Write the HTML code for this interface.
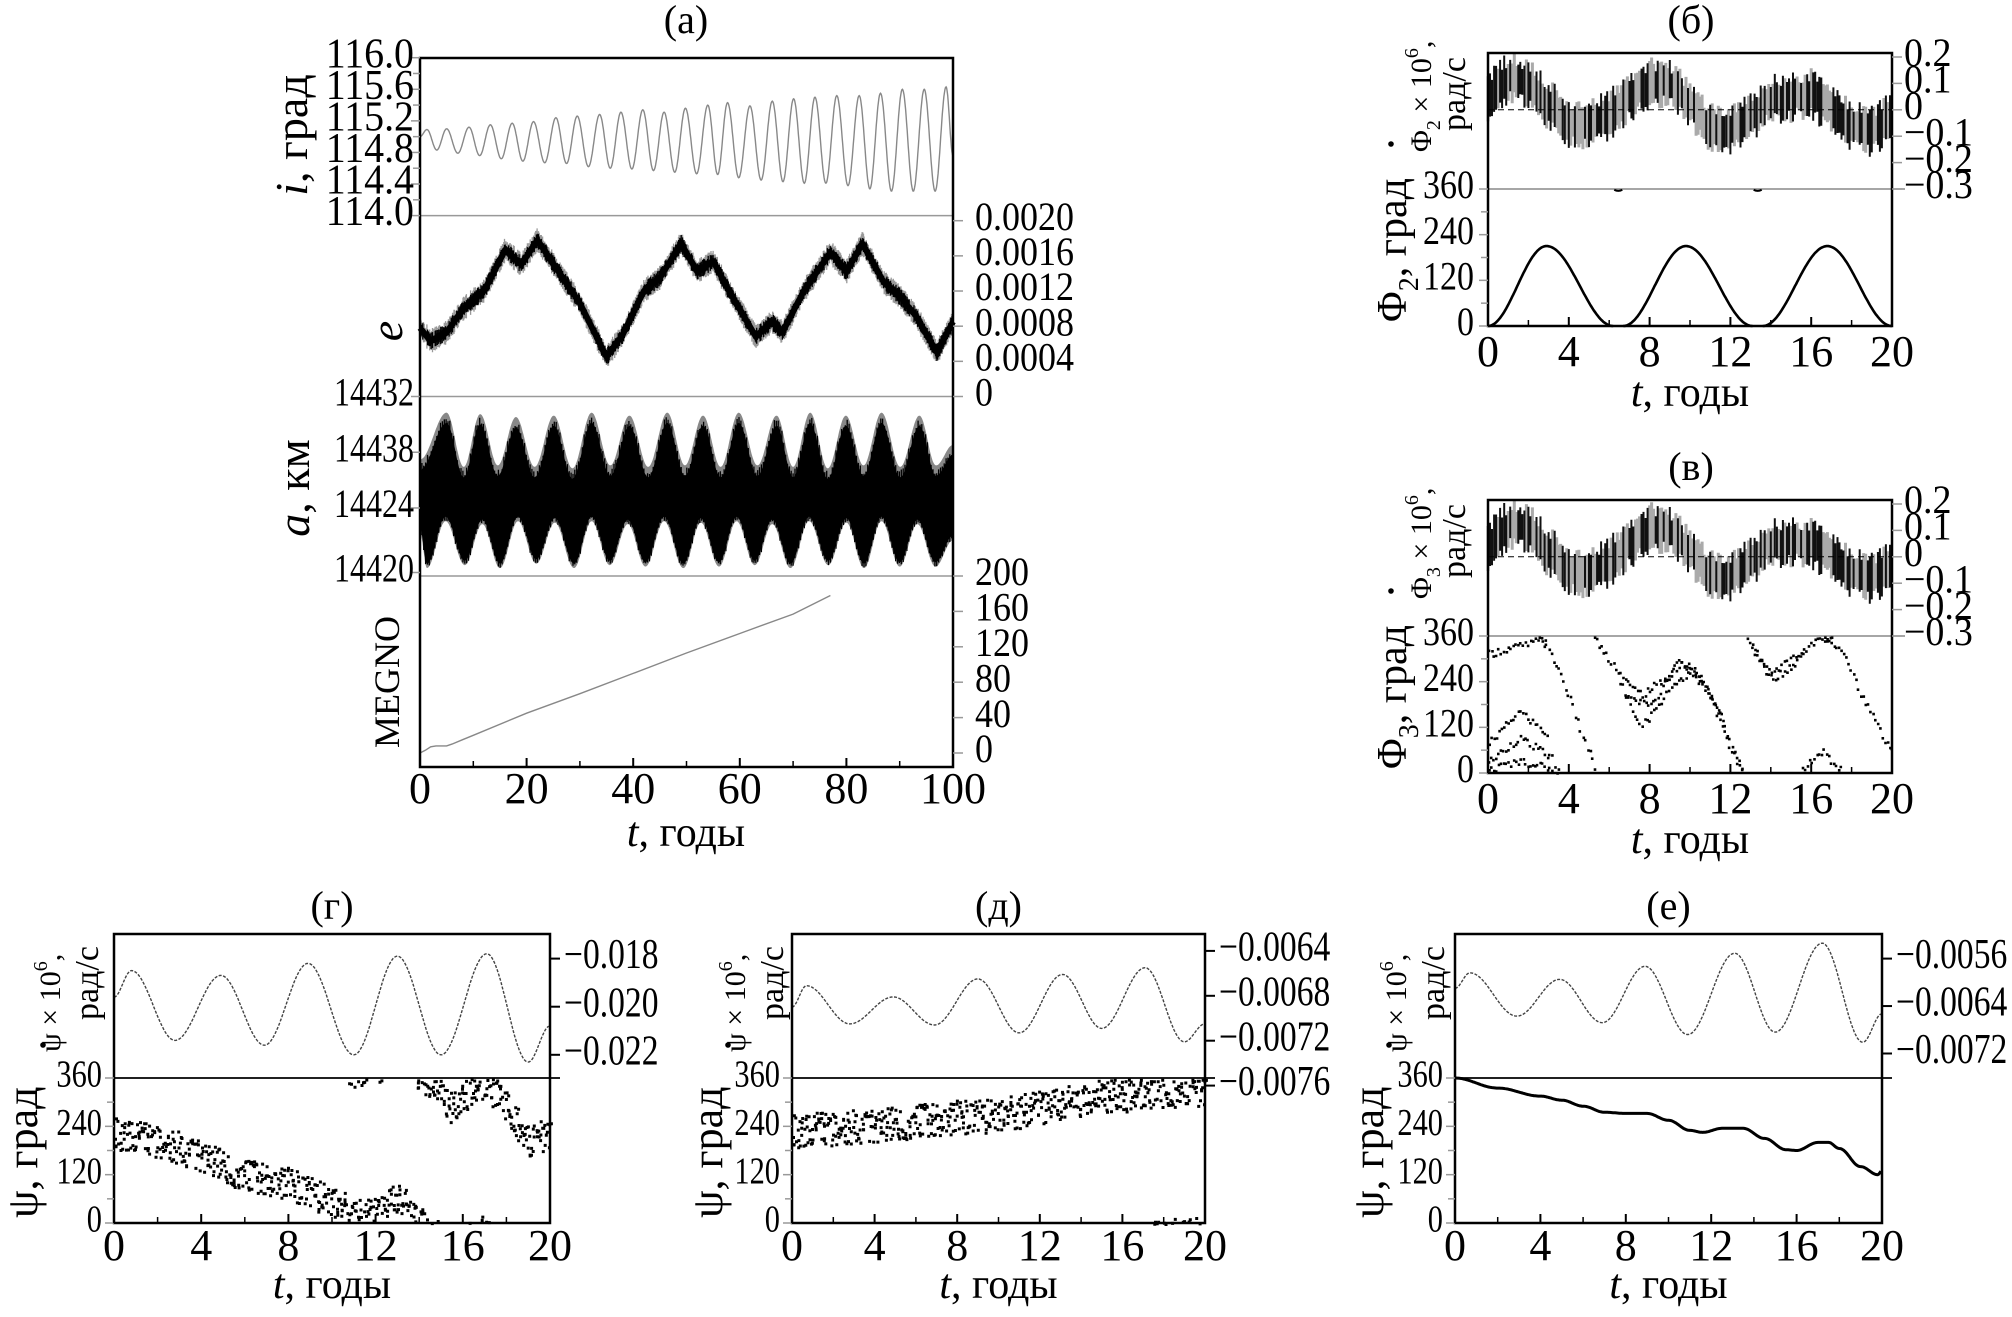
<!DOCTYPE html>
<html><head><meta charset="utf-8"><style>
html,body{margin:0;padding:0;background:#fff;}
svg{display:block;font-family:"Liberation Serif","DejaVu Serif",serif;}
</style></head><body>
<svg id="fig" xmlns="http://www.w3.org/2000/svg" width="2012" height="1317" viewBox="0 0 2012 1317" font-family="Liberation Serif, serif"></svg>
<script>
// ---------- DATA ----------
const iPeakT=[1.3,5.0,9.2,13.2,17.3,21.3,25.5,29.5,33.7,37.7,41.8,45.8,49.8,54.0,57.7,61.9,66.1,70.1,74.1,78.2,82.4,86.4,90.5,94.6,98.7];
const iPeakV=[115.09,115.10,115.12,115.15,115.17,115.19,115.24,115.26,115.28,115.31,115.34,115.31,115.36,115.40,115.43,115.39,115.45,115.48,115.50,115.52,115.52,115.55,115.60,115.60,115.63];
const iTroughV=[114.83,114.79,114.76,114.72,114.69,114.67,114.66,114.62,114.60,114.59,114.57,114.55,114.53,114.52,114.48,114.45,114.43,114.41,114.41,114.38,114.34,114.31,114.31,114.31];
const iStart=115.0, iEnd=114.76;
const eT=[0,2,5,8,12,16,19,22,26,30,35,38,42,45,49,52,55,58,63,66,68,72,77,80,83,87,90,93,97,100];
const eC=[0.00078,0.00063,0.00073,0.00099,0.0012,0.00167,0.0015,0.00178,0.00142,0.00106,0.00045,0.0007,0.0012,0.00135,0.00174,0.00142,0.00154,0.0012,0.00068,0.00085,0.00073,0.0012,0.00164,0.00142,0.00174,0.0013,0.00114,0.00092,0.0005,0.00085];
const aUT=[0,5.0,8.2,11.3,14.6,18.0,21.5,25.1,28.6,32.2,35.7,39.3,42.8,46.4,49.7,53.1,56.4,59.8,63.3,66.9,70.0,73.2,76.5,79.9,83.2,86.6,90.1,93.7,96.8,100];
const aUV=[14427,14430.2,14426.5,14430.1,14426.6,14429.9,14426.5,14430.0,14426.4,14430.2,14426.6,14430.0,14426.5,14430.2,14426.6,14430.0,14426.5,14430.2,14426.6,14430.0,14426.5,14430.2,14426.4,14430.0,14426.6,14430.2,14426.5,14430.0,14426.6,14428];
const aLT=[0,1.3,4.8,8.4,11.7,15.0,18.4,21.8,25.3,28.9,32.2,35.6,39.0,42.3,45.8,49.4,52.7,56.1,59.4,62.8,66.1,69.5,73.0,76.6,80.0,83.3,86.6,90.0,93.3,96.7,100];
const aLV=[14423,14420.6,14423.8,14420.8,14423.6,14420.6,14423.8,14420.9,14423.7,14420.6,14423.8,14420.8,14423.6,14420.7,14423.8,14420.6,14423.7,14420.7,14423.8,14420.8,14423.6,14420.6,14423.8,14420.8,14423.7,14420.6,14423.8,14420.7,14423.6,14420.7,14422.5];
const mT=[0,1,2,3,5,6,8,10,20,30,40,50,60,70,77];
const mV=[0,3,7,8,8,10,15,20,45,67,90,113,135,157,178];
const b2C=[0.05,0.12,0.10,0.02,-0.05,-0.06,-0.02,0.05,0.10,0.10,0.02,-0.07,-0.08,-0.03,0.04,0.05,0.06,0.0,-0.06,-0.08,-0.03];
const b3C=[0.04,0.12,0.11,0.02,-0.05,-0.07,-0.02,0.05,0.11,0.10,0.02,-0.07,-0.08,-0.02,0.05,0.06,0.05,0.0,-0.06,-0.08,-0.04];
const bAmp=0.1;
const p2Start=[0,6.7,13.6], p2Peak=[2.9,9.8,16.8], p2End=[6.2,13.1,20], p2Height=[210,210,210];
const p3Tracks=[
 [[0,315],[1,330],[2,342],[2.8,358]],
 [[2.6,355],[3.5,270],[4,200],[4.5,120],[5.3,10]],
 [[0,80],[1.5,165],[3,100]],
 [[0,30],[1.5,95],[3.2,40]],
 [[0,10],[1.5,35],[3.6,8]],
 [[5.2,358],[6,300],[7,230],[7.6,210],[8.5,240],[9.5,290],[10.5,250],[11.5,150],[12.3,40],[12.6,2]],
 [[6.5,240],[7.5,130],[8,150],[9,230],[10,270],[11,200],[12,60],[12.5,10]],
 [[6.8,200],[8,180],[9.5,300],[10.5,260],[11.5,150]],
 [[12.8,352],[13.5,300],[14,270],[15,300],[16,345],[17,358]],
 [[13,330],[14,250],[15,280],[15.6,320]],
 [[16.6,358],[17.5,330],[18.5,200],[19.5,100],[20,60]],
 [[15.5,10],[16.5,60],[17.5,8]]
];
const gdT=[0,0.8,2.8,4.9,6.9,8.9,11.0,13.0,15.0,17.1,19.0,20];
const gdV=[-0.0196,-0.0185,-0.0214,-0.0187,-0.0216,-0.0182,-0.0220,-0.0179,-0.0220,-0.0178,-0.0223,-0.0208];
const ddT=[0,0.7,2.8,4.9,6.9,9.0,11.0,13.1,15.0,17.1,19.0,20];
const ddV=[-0.00690,-0.00671,-0.00705,-0.00681,-0.00706,-0.00665,-0.00713,-0.00661,-0.00709,-0.00655,-0.00721,-0.00705];
const edT=[0,0.7,2.9,4.9,6.9,8.9,10.9,13.1,15.0,17.2,19.1,20];
const edV=[-0.0061,-0.00584,-0.00657,-0.00595,-0.00668,-0.00573,-0.00688,-0.00551,-0.00684,-0.00534,-0.00701,-0.00653];
const gT=[0,2,4,6,8,10,11,12,13,13.5,14,15,15.5,16,17,18,19,20];
const gC=[225,205,170,120,100,55,20,25,70,40,10,-40,-80,-40,-10,-70,-160,-130];
const dT=[0,4,8,10,12,14,16,18,20];
const dC=[230,245,265,270,290,310,320,330,335];
const eT2=[0,2,4,5,6,7,8,9,10,11,11.6,12.5,13.5,14.5,15.5,16,17,17.5,18,19,19.8,20];
const eV2=[360,335,315,305,290,275,272,272,255,230,225,235,235,210,182,180,200,200,185,140,120,130];

// ---------- HELPERS ----------
const NS="http://www.w3.org/2000/svg";
const svg=document.getElementById('fig');
function mk(tag,attrs,name){
  const e=document.createElementNS(NS,tag);
  for(const k in attrs) e.setAttribute(k,attrs[k]);
  
  
  svg.appendChild(e); return e;
}
function sc(d0,d1,r0,r1){return v=>r0+(v-d0)*(r1-r0)/(d1-d0);}
function cosI(T,V,t){
  if(t<=T[0])return V[0];
  for(let i=0;i<T.length-1;i++){ if(t<=T[i+1]){const u=(t-T[i])/(T[i+1]-T[i]);return V[i]+(V[i+1]-V[i])*(1-Math.cos(Math.PI*u))/2;} }
  return V[V.length-1];
}
function linI(T,V,t){
  if(t<=T[0])return V[0];
  for(let i=0;i<T.length-1;i++){ if(t<=T[i+1]){const u=(t-T[i])/(T[i+1]-T[i]);return V[i]+(V[i+1]-V[i])*u;} }
  return V[V.length-1];
}
function hj(i,k){const s=Math.sin(i*12.9898+k*78.233)*43758.5453;return 2*(s-Math.floor(s))-1;}
function text(x,y,s,size,anchor,name,sq){
  const at={x:x,y:y,'font-size':size,'text-anchor':anchor||'middle','dominant-baseline':'middle',fill:'#000'};
  if(sq){at.x=0;at.y=0;at.transform=`translate(${x},${y}) scale(${sq},1)`;}
  const e=mk('text',at,name);
  e.textContent=s; return e;
}
function line(x1,y1,x2,y2,stroke,w,name){return mk('line',{x1:x1,y1:y1,x2:x2,y2:y2,stroke:stroke,'stroke-width':w},name);}
function pathD(pts){return pts.map((p,i)=>(i?'L':'M')+p[0].toFixed(1)+','+p[1].toFixed(1)).join('');}
function rotLabel(x,y,parts,size,name,anchor){
  const e=mk('text',{x:0,y:0,'font-size':size,'text-anchor':anchor||'middle','dominant-baseline':'middle',transform:`translate(${x},${y}) rotate(-90)`},name);
  parts.forEach(p=>{const ts=document.createElementNS(NS,'tspan');ts.textContent=p[0];if(p[1])for(const k in p[1])ts.setAttribute(k,p[1][k]);e.appendChild(ts);});
  return e;
}
function xAxis(X,ticks,minor,yB,labY,titleY,xc,name){
  ticks.forEach(v=>{line(X(v),yB,X(v),yB-9,'#000',2,name+'-tick');text(X(v),labY,String(v),44,'middle',name+'-tick-label');});
  minor.forEach(v=>{line(X(v),yB,X(v),yB-6,'#000',1.5,name+'-minor-tick');});
  const t=mk('text',{x:xc,y:titleY,'font-size':42,'text-anchor':'middle','dominant-baseline':'middle'},name+'-title');
  const a=document.createElementNS(NS,'tspan');a.setAttribute('font-style','italic');a.textContent='t';t.appendChild(a);
  const b=document.createElementNS(NS,'tspan');b.textContent=', годы';t.appendChild(b);
}
function dotMark(x,y,name){mk('circle',{cx:x,cy:y,r:2.8,fill:'#000'},name);}

// ================= PANEL (a) =================
const aX=sc(0,100,420,953);
const iY=sc(114,116,215.6,57.7), eY=sc(0,0.002,396.5,220.7), aY=sc(14420,14432,572.5,396.5), mY=sc(0,200,753,576);
text(686,24,'(a)',40,'middle','panel-a-title');
[215.6,396.5,576].forEach(y=>line(420,y,953,y,'#999',1.5,'panel-a-separator'));
(function(){
  const T=[0],V=[iStart];
  for(let k=0;k<iPeakT.length;k++){T.push(iPeakT[k]);V.push(iPeakV[k]);if(k<iTroughV.length){T.push((iPeakT[k]+iPeakT[k+1])/2);V.push(iTroughV[k]);}}
  T.push(100);V.push(iEnd);
  const pts=[];for(let t=0;t<=100;t+=0.1)pts.push([aX(t),iY(cosI(T,V,t))]);
  mk('path',{d:pathD(pts),fill:'none',stroke:'#888','stroke-width':1.4},'inclination-line');
})();
(function(){
  const pts=[];for(let t=0;t<=100;t+=0.25)pts.push([aX(t),eY(linI(eT,eC,t))]);
  let dg='',db='';let i=0;
  for(let t=0;t<=100;t+=0.13){const c=linI(eT,eC,t);
    const hg=0.00007+0.00007*Math.abs(hj(i,1)),hb=0.00004+0.00006*Math.abs(hj(i,2));
    const x=aX(t).toFixed(1);
    dg+=`M${x},${eY(c+hg).toFixed(1)}V${eY(c-hg).toFixed(1)}`;
    db+=`M${x},${eY(c+hb).toFixed(1)}V${eY(c-hb).toFixed(1)}`;i++;}
  mk('path',{d:dg,stroke:'#999','stroke-width':1.3},'eccentricity-band-gray');
  mk('path',{d:pathD(pts),fill:'none',stroke:'#000','stroke-width':6,'stroke-linejoin':'round'},'eccentricity-band');
  mk('path',{d:db,stroke:'#000','stroke-width':1.3},'eccentricity-noise');
})();
(function(){
  const up=[],lo=[],upg=[],log=[];
  for(let t=0;t<=100;t+=0.2){const u=cosI(aUT,aUV,t),l=cosI(aLT,aLV,t);up.push([aX(t),aY(u)]);lo.push([aX(t),aY(l)]);upg.push([aX(t),aY(u+0.7)]);log.push([aX(t),aY(l-0.3)]);}
  mk('path',{d:pathD(upg.concat(log.reverse()))+'Z',fill:'#888',stroke:'none'},'semi-major-axis-band-gray');
  mk('path',{d:pathD(up.concat(lo.reverse()))+'Z',fill:'#000',stroke:'none'},'semi-major-axis-band');
  let d='';let i=0;
  for(let t=0;t<=100;t+=0.35){const u=cosI(aUT,aUV,t),l=cosI(aLT,aLV,t);d+=`M${aX(t).toFixed(1)},${aY(u+0.5*Math.abs(hj(i,2))).toFixed(1)}V${aY(l-0.3*Math.abs(hj(i,3))).toFixed(1)}`;i++;}
  mk('path',{d:d,stroke:'#000','stroke-width':1.3},'semi-major-axis-noise');
})();
(function(){const pts=mT.map((t,k)=>[aX(t),mY(mV[k])]);mk('path',{d:pathD(pts),fill:'none',stroke:'#888','stroke-width':1.4},'megno-line');})();
mk('rect',{x:420,y:58,width:533,height:709,fill:'none',stroke:'#000','stroke-width':2.5},'panel-a-frame');
const iTicks=[116.0,115.6,115.2,114.8,114.4,114.0];
iTicks.forEach(v=>{line(420,iY(v),411,iY(v),'#999',1.5,'i-tick');text(414,iY(v),v.toFixed(1),42,'end','i-tick-label',0.95);});
[115.8,115.4,115.0,114.6,114.2].forEach(v=>line(420,iY(v),413,iY(v),'#999',1.5,'i-minor-tick'));
const eTicks=[0.002,0.0016,0.0012,0.0008,0.0004,0];
const eTickLabels=['0.0020','0.0016','0.0012','0.0008','0.0004','0'];
eTicks.forEach((v,k)=>{line(953,eY(v),963,eY(v),'#999',1.5,'e-tick');text(975,eY(v),eTickLabels[k],40,'start','e-tick-label',0.9);});
const aTicks=[14432,14428.2,14424.4,14420];
const aTickLabels=['14432','14438','14424','14420'];
aTicks.forEach((v,k)=>{line(420,aY(v),411,aY(v),'#999',1.5,'a-tick');text(414,aY(v),aTickLabels[k],40,'end','a-tick-label',0.8);});
const mTicks=[200,160,120,80,40,0];
mTicks.forEach(v=>{line(953,mY(v),963,mY(v),'#999',1.5,'megno-tick');text(975,mY(v),String(v),40,'start','megno-tick-label',0.9);});
rotLabel(296,135,[['i',{'font-style':'italic'}],[', град']],46,'i-axis-title');
rotLabel(391,331,[['e',{'font-style':'italic'}]],46,'e-axis-title');
rotLabel(298,488,[['a',{'font-style':'italic'}],[', км']],46,'a-axis-title');
rotLabel(391,682,[['MEGNO']],36,'megno-axis-title');
xAxis(aX,[0,20,40,60,80,100],[10,30,50,70,90],767,793,836,686,'panel-a-x');

// ================= PANELS (б),(в) =================
function rightPanel(cfg){
  const X=sc(0,20,1488,1892);
  const R=sc(0.2,-0.3,cfg.top+4,cfg.mid);
  const P=sc(0,360,cfg.bot,cfg.mid);
  text(1691,cfg.titleY,cfg.title,40,'middle',cfg.name+'-title');
  let dB='',dG='';let i=0;
  for(let t=0;t<=20;t+=0.1){const c=linI([...Array(21).keys()],cfg.C,t);const hu=bAmp*(0.45+0.55*Math.abs(hj(i,4))),hl=bAmp*(0.45+0.55*Math.abs(hj(i,5)));
    const seg=`M${X(t).toFixed(1)},${R(c+hu).toFixed(1)}V${R(c-hl).toFixed(1)}`; if(hj(i,9)>0.1)dG+=seg; else dB+=seg; i++;}
  mk('path',{d:dG,stroke:'#aaa','stroke-width':3},cfg.name+'-rate-band-gray');
  mk('path',{d:dB,stroke:'#111','stroke-width':2},cfg.name+'-rate-band');
  line(1488,R(0),1892,R(0),'#000',1,cfg.name+'-zero-line').setAttribute('stroke-dasharray','6,4');
  line(1488,cfg.mid,1905,cfg.mid,'#888',1.5,cfg.name+'-separator');
  cfg.draw(X,P);
  mk('rect',{x:1488,y:cfg.top,width:404,height:cfg.bot-cfg.top,fill:'none',stroke:'#000','stroke-width':2.5},cfg.name+'-frame');
  const rT=[0.2,0.1,0,-0.1,-0.2,-0.3],rL=['0.2','0.1','0','\u22120.1','\u22120.2','\u22120.3'];
  rT.forEach((v,k)=>{line(1892,R(v),1902,R(v),'#999',1.5,cfg.name+'-rate-tick');text(1904,R(v),rL[k],40,'start',cfg.name+'-rate-tick-label',0.95);});
  [360,240,120,0].forEach(v=>{line(1488,P(v),1479,P(v),'#999',1.5,cfg.name+'-angle-tick');text(1474,P(v),String(v),40,'end',cfg.name+'-angle-tick-label',0.85);});
  [300,180,60].forEach(v=>line(1488,P(v),1481,P(v),'#999',1.5,cfg.name+'-angle-minor-tick'));
  rotLabel(1396,cfg.angLabY,[['Φ'],[cfg.sub,{'baseline-shift':'sub','font-size':28}],[', град']],42,cfg.name+'-angle-axis-title');
  rotLabel(1424,cfg.rateBot,[['Φ'],[cfg.sub,{'baseline-shift':'sub','font-size':20}],[' × 10'],['6',{'baseline-shift':'super','font-size':20}],[',']],30,cfg.name+'-rate-axis-title','start');
  dotMark(1391,cfg.rateBot-8,cfg.name+'-rate-dot');
  rotLabel(1457,cfg.rateBot-58,[['рад/с']],34,cfg.name+'-rate-axis-unit');
  xAxis(X,[0,4,8,12,16,20],[2,6,10,14,18],cfg.bot,cfg.bot+30,cfg.bot+70,1690,cfg.name+'-x');
}
rightPanel({name:'panel-b',title:'(б)',titleY:24,top:53,mid:189,bot:326,C:b2C,sub:'2',angLabY:250,rateBot:152,
 draw:(X,P)=>{
  let d='';
  for(let h=0;h<p2Start.length;h++){const pts=[];for(let t=p2Start[h];t<=p2End[h]+1e-6;t+=0.05){const v=cosI([p2Start[h],p2Peak[h],p2End[h]],[0,p2Height[h],0],t);pts.push([X(t),P(v)]);}d+=pathD(pts);}
  mk('path',{d:d,fill:'none',stroke:'#000','stroke-width':2.6},'phi2-line');
  for(let h=0;h<p2Start.length-1;h++){const tm=(p2End[h]+p2Start[h+1])/2;mk('path',{d:`M${X(tm-0.2)},${P(358)}Q${X(tm)},${P(352)} ${X(tm+0.2)},${P(358)}`,fill:'none',stroke:'#000','stroke-width':2},'phi2-wrap-mark');}
 }});
rightPanel({name:'panel-v',title:'(в)',titleY:471,top:500,mid:636,bot:773,C:b3C,sub:'3',angLabY:697,rateBot:599,
 draw:(X,P)=>{
  let d='';let i=0;
  p3Tracks.forEach(tr=>{const T=tr.map(p=>p[0]),V=tr.map(p=>p[1]);for(let t=T[0];t<=T[T.length-1];t+=0.12){let v=linI(T,V,t)+10*hj(i,6);v=Math.max(1,Math.min(359,v));const x=X(t+0.04*hj(i,8));d+=`M${x.toFixed(1)},${P(v).toFixed(1)}h2.6v2.6h-2.6z`;i++;}});
  mk('path',{d:d,fill:'#000'},'phi3-points');
 }});

// ================= BOTTOM PANELS =================
function bottomPanel(cfg){
  const X=sc(0,20,cfg.x0,cfg.x1);
  const R=sc(cfg.rd[0],cfg.rd[1],cfg.rr[0],cfg.rr[1]);
  const P=sc(0,360,1223,1078);
  text((cfg.x0+cfg.x1)/2,910,cfg.title,40,'middle',cfg.name+'-title');
  const pts=[];for(let t=0;t<=20;t+=0.05)pts.push([X(t),R(cosI(cfg.dT,cfg.dV,t))]);
  mk('path',{d:pathD(pts),fill:'none',stroke:'#444','stroke-width':1.4,'stroke-dasharray':'3,1.5'},cfg.name+'-rate-line');
  line(cfg.x0,1078,cfg.x1+10,1078,'#000',1.8,cfg.name+'-separator');
  cfg.draw(X,P);
  mk('rect',{x:cfg.x0,y:934,width:cfg.x1-cfg.x0,height:289,fill:'none',stroke:'#000','stroke-width':2.5},cfg.name+'-frame');
  cfg.rTicks.forEach((v,k)=>{line(cfg.x1,R(v),cfg.x1+10,R(v),'#000',2,cfg.name+'-rate-tick');text(cfg.x1+14,R(v),cfg.rLabels[k],42,'start',cfg.name+'-rate-tick-label',0.8);});
  [360,240,120,0].forEach(v=>{line(cfg.x0,P(v),cfg.x0-9,P(v),'#999',1.5,cfg.name+'-angle-tick');text(cfg.x0-12,P(v),String(v),38,'end',cfg.name+'-angle-tick-label',0.8);});
  [300,180,60].forEach(v=>line(cfg.x0,P(v),cfg.x0-7,P(v),'#999',1.5,cfg.name+'-angle-minor-tick'));
  const lo=cfg.lo;
  rotLabel(cfg.x0-lo,1218,[['ψ, град']],44,cfg.name+'-angle-axis-title','start');
  rotLabel(cfg.x0-lo+26,1052,[['ψ × 10'],['6',{'baseline-shift':'super','font-size':20}],[',']],30,cfg.name+'-rate-axis-title','start');
  dotMark(cfg.x0-lo+16,1045,cfg.name+'-rate-dot');
  rotLabel(cfg.x0-lo+63,983,[['рад/с']],34,cfg.name+'-rate-axis-unit');
  xAxis(X,[0,4,8,12,16,20],[2,6,10,14,18],1223,1250,1288,(cfg.x0+cfg.x1)/2,cfg.name+'-x');
}
function scatter(X,P,T,C,spread,name){
  let d='';let i=0;
  for(let t=0;t<=20;t+=0.07){const c=linI(T,C,t);for(let k=0;k<2;k++){let v=c+spread*hj(i,k+7);v=((v%360)+360)%360;const x=X(Math.min(20,Math.max(0,t+0.05*hj(i,k+11))));d+=`M${x.toFixed(1)},${P(v).toFixed(1)}h3v3h-3z`;}i++;}
  mk('path',{d:d,fill:'#000'},name);
}
bottomPanel({name:'panel-g',title:'(г)',x0:114,x1:550,lo:87,dT:gdT,dV:gdV,rd:[-0.018,-0.022],rr:[958.6,1054.8],
 rTicks:[-0.018,-0.020,-0.022],rLabels:['\u22120.018','\u22120.020','\u22120.022'],
 draw:(X,P)=>scatter(X,P,gT,gC,40,'psi-g-points')});
bottomPanel({name:'panel-d',title:'(д)',x0:792,x1:1205,lo:80,dT:ddT,dV:ddV,rd:[-0.0064,-0.0076],rr:[950.9,1085.6],
 rTicks:[-0.0064,-0.0068,-0.0072,-0.0076],rLabels:['\u22120.0064','\u22120.0068','\u22120.0072','\u22120.0076'],
 draw:(X,P)=>scatter(X,P,dT,dC,42,'psi-d-points')});
bottomPanel({name:'panel-e',title:'(е)',x0:1455,x1:1882,lo:82,dT:edT,dV:edV,rd:[-0.0056,-0.0072],rr:[958.6,1053.5],
 rTicks:[-0.0056,-0.0064,-0.0072],rLabels:['\u22120.0056','\u22120.0064','\u22120.0072'],
 draw:(X,P)=>{const pts=[];for(let t=0;t<=20;t+=0.05)pts.push([X(t),P(cosI(eT2,eV2,t))]);mk('path',{d:pathD(pts),fill:'none',stroke:'#000','stroke-width':3},'psi-e-line');}});
</script>
</body></html>
